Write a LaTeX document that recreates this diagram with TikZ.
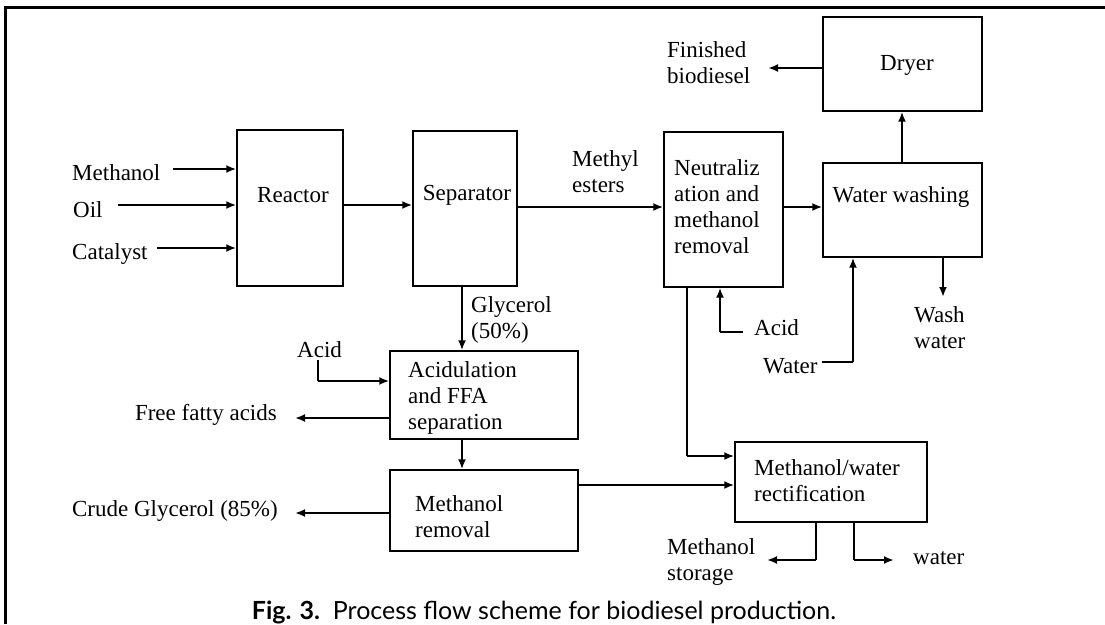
\documentclass[tikz,border=0pt]{standalone}
\usepackage{fontspec}
\setmainfont{Liberation Serif}
\newfontfamily\capfont{Lato}
\usetikzlibrary{arrows.meta}
\begin{document}
\begin{tikzpicture}[x=1pt,y=-1pt,
  box/.style={draw, line width=1.4pt, inner sep=0pt},
  txt/.style={font=\fontsize{23}{26}\selectfont, inner sep=0pt, align=left},
  arr/.style={line width=2.6pt, -{Latex[length=10pt,width=8pt]}},
  thin/.style={line width=1.3pt}]
\useasboundingbox (0,0) rectangle (1105,624);
\fill[white] (0,0) rectangle (1105,624);
\draw[line width=3pt] (5,624) -- (5,7) -- (1105,7);

% boxes
\node[box, minimum width=106pt, minimum height=156pt] (reactor) at (290,208) {};
\node[box, minimum width=104pt, minimum height=155pt] (sep) at (465,208.5) {};
\node[box, minimum width=119pt, minimum height=155pt] (neut) at (723.5,209.5) {};
\node[box, minimum width=159pt, minimum height=94pt] (wash) at (902.5,210) {};
\node[box, minimum width=159pt, minimum height=94pt] (dryer) at (902.5,64) {};
\node[box, minimum width=188pt, minimum height=88pt] (acidul) at (484,395) {};
\node[box, minimum width=188pt, minimum height=81pt] (mrem) at (484,510.5) {};
\node[box, minimum width=192pt, minimum height=80pt] (rect) at (831,482) {};

% box texts
\node[txt] (reactorT) at (293,195) {Reactor};
\node[txt] (sepT) at (467,195) {Separator};
\node[txt, anchor=west] (neutT) at (674,207) {Neutraliz\\ation and\\methanol\\removal};
\node[txt] (washT) at (901,197) {Water washing};
\node[txt] (dryerT) at (907,65) {Dryer};
\node[txt, anchor=west] (acidulT) at (408,398) {Acidulation\\and FFA\\separation};
\node[txt, anchor=west] (mremT) at (415,516.5) {Methanol\\removal};
\node[txt, anchor=west] (rectT) at (754,481) {Methanol/water\\rectification};

% free labels
\node[txt, anchor=west] (lMeth) at (72,173) {Methanol};
\node[txt, anchor=west] (lOil) at (73,210) {Oil};
\node[txt, anchor=west] (lCat) at (72,254) {Catalyst};
\node[txt, anchor=west] (lME) at (572,172) {Methyl\\esters};
\node[txt, anchor=west] (lFin) at (667,63) {Finished\\biodiesel};
\node[txt, anchor=west] (lWW) at (914,328) {Wash\\water};
\node[txt, anchor=west] (lAcidN) at (754,328) {Acid};
\node[txt, anchor=west] (lWater) at (763,366) {Water};
\node[txt, anchor=west] (lGly) at (471,320) {Glycerol\\(50\%)};
\node[txt, anchor=west] (lAcidA) at (297,350) {Acid};
\node[txt, anchor=east] (lFFA) at (277,415) {Free fatty acids};
\node[txt, anchor=east] (lCrude) at (278,511) {Crude Glycerol (85\%)};
\node[txt, anchor=west] (lMS) at (667,562) {Methanol\\storage};
\node[txt, anchor=west] (lW2) at (913,558) {water};
\node[font=\capfont\fontsize{25}{28}\selectfont, inner sep=0pt, anchor=base] (cap) at (544,619) {\textbf{Fig. 3.}\ \ Process flow scheme for biodiesel production.};

% inputs to reactor
\coordinate (m0) at (173,169);
\coordinate (o0) at (118,205);
\coordinate (c0) at (157,248);
\draw[arr] (m0) -- (m0 -| reactor.west);
\draw[arr] (o0) -- (o0 -| reactor.west);
\draw[arr] (c0) -- (c0 -| reactor.west);

% main line
\coordinate (r1) at (343,205);
\draw[arr] (r1) -- (r1 -| sep.west);
\coordinate (s1) at (517,207);
\draw[arr] (s1) -- (s1 -| neut.west);
\coordinate (n1) at (783,207);
\draw[arr] (n1) -- (n1 -| wash.west);
\coordinate (w1) at (902,163);
\draw[arr] (w1) -- (w1 |- dryer.south);
\coordinate (d1) at (823,68);
\coordinate (d2) at (768,68);
\draw[arr] (d1) -- (d2);
\coordinate (w2) at (943,257);
\coordinate (w3) at (943,297);
\draw[arr] (w2) -- (w3);

% water to washing
\coordinate (wa0) at (822,362);
\coordinate (wa1) at (853,362);
\draw[thin] (wa0) -- (wa1);
\draw[arr] (wa1) -- (wa1 |- wash.south);

% acid to neutralization
\coordinate (an0) at (743,332);
\coordinate (an1) at (720,332);
\draw[thin] (an0) -- (an1);
\draw[arr] (an1) -- (an1 |- neut.south);

% neutralization to rectification
\coordinate (nr0) at (687,287);
\coordinate (nr1) at (687,456);
\draw[thin] (nr0) -- (nr1);
\draw[arr] (nr1) -- (nr1 -| rect.west);

% separator to acidulation
\coordinate (g0) at (462,286);
\draw[arr] (g0) -- (g0 |- acidul.north);

% acid to acidulation
\coordinate (aa0) at (318,360);
\coordinate (aa1) at (318,381);
\draw[thin] (aa0) -- (aa1);
\draw[arr] (aa1) -- (aa1 -| acidul.west);

% acidulation outputs
\coordinate (f0) at (390,418);
\coordinate (f1) at (295,418);
\draw[arr] (f0) -- (f1);
\coordinate (am0) at (462,439);
\draw[arr] (am0) -- (am0 |- mrem.north);

% methanol removal outputs
\coordinate (cg0) at (390,513);
\coordinate (cg1) at (295,513);
\draw[arr] (cg0) -- (cg1);
\coordinate (mr0) at (578,485);
\draw[arr] (mr0) -- (mr0 -| rect.west);

% rectification outputs
\coordinate (ms0) at (816,522);
\coordinate (ms1) at (816,560);
\coordinate (ms2) at (767,560);
\draw[thin] (ms0) -- (ms1);
\draw[arr] (ms1) -- (ms2);
\coordinate (wo0) at (854,522);
\coordinate (wo1) at (854,560);
\coordinate (wo2) at (894,560);
\draw[thin] (wo0) -- (wo1);
\draw[arr] (wo1) -- (wo2);
\end{tikzpicture}
\end{document}
